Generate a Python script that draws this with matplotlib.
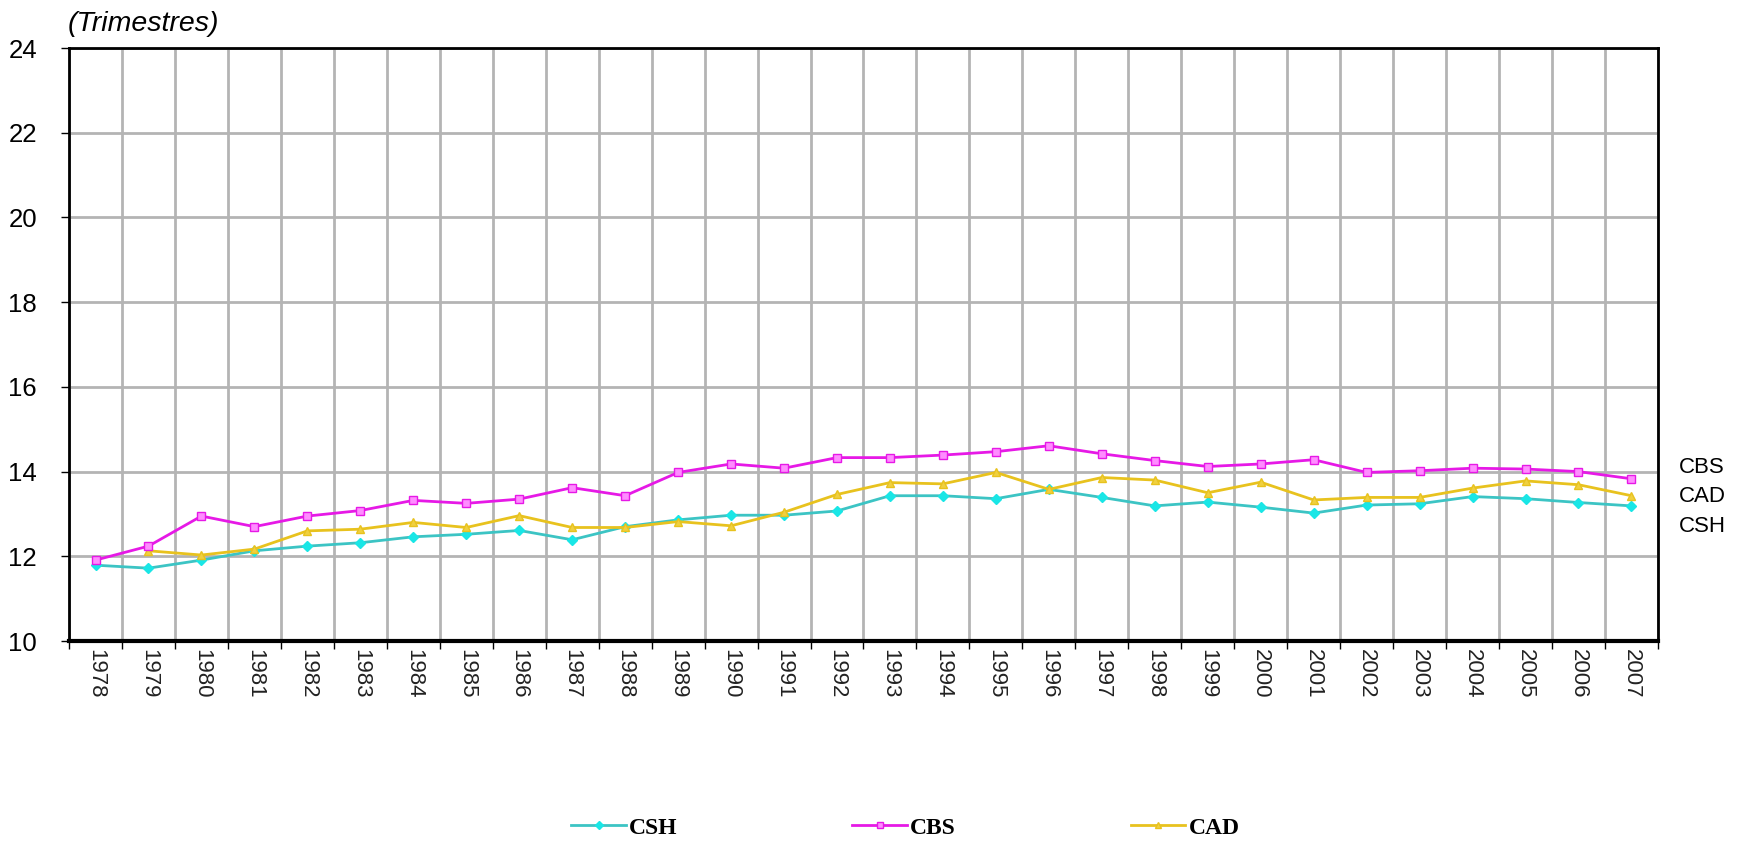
import matplotlib
matplotlib.use("Agg")
import matplotlib.pyplot as plt
import numpy as np

years = [str(y) for y in range(1978, 2008)]

csh = [11.79, 11.72, 11.91, 12.13, 12.24, 12.32, 12.46, 12.52, 12.61, 12.39,
       12.70, 12.86, 12.97, 12.97, 13.07, 13.43, 13.43, 13.36, 13.58, 13.39,
       13.19, 13.28, 13.16, 13.02, 13.21, 13.24, 13.41, 13.36, 13.27, 13.19]

cbs = [11.91, 12.24, 12.95, 12.70, 12.95, 13.08, 13.32, 13.25, 13.35, 13.62,
       13.43, 13.98, 14.18, 14.08, 14.33, 14.33, 14.39, 14.47, 14.61, 14.42,
       14.26, 14.12, 14.18, 14.28, 13.98, 14.02, 14.08, 14.06, 14.00, 13.83]

# CAD starts in 1979
cad = [np.nan, 12.13, 12.03, 12.17, 12.60, 12.64, 12.80, 12.68, 12.96, 12.68,
       12.68, 12.82, 12.72, 13.04, 13.46, 13.74, 13.71, 13.98, 13.58, 13.86,
       13.80, 13.50, 13.75, 13.33, 13.39, 13.39, 13.61, 13.78, 13.69, 13.43]

colors = {
    'csh': '#3cc4c4',
    'cshMarker': '#19e6e6',
    'cbs': '#e619e6',
    'cbsMarker': '#ff8cff',
    'cad': '#e8c21e',
    'cadMarker': '#f0d040',
    'grid': '#b4b4b4',
}

fig = plt.figure(figsize=(17.43, 8.41), dpi=100)
ax = fig.add_axes([0.0396, 0.2378, 0.9116, 0.7051])

x = np.arange(len(years)) + 0.5

ax.plot(x, csh, color=colors['csh'], lw=2, marker='D', ms=5,
        mfc=colors['cshMarker'], mec=colors['cshMarker'], label='CSH', zorder=3)
ax.plot(x, cbs, color=colors['cbs'], lw=2, marker='s', ms=6,
        mfc=colors['cbsMarker'], mec=colors['cbs'], mew=1, label='CBS', zorder=4)
ax.plot(x, cad, color=colors['cad'], lw=2, marker='^', ms=6,
        mfc=colors['cadMarker'], mec=colors['cad'], label='CAD', zorder=3)

ax.set_xlim(0, len(years))
ax.set_ylim(10, 24)
ax.set_yticks(np.arange(10, 25, 2))

# ticks on category boundaries, labels on category centers
ax.set_xticks(np.arange(len(years) + 1))
ax.set_xticklabels([])
ax.set_xticks(x, minor=True)
ax.set_xticklabels(years, minor=True, rotation=-90, fontsize=16,
                   color='#222222', family='Liberation Sans')
ax.tick_params(axis='x', which='minor', length=0, pad=6)
ax.tick_params(axis='x', which='major', length=6, width=1, direction='out')
ax.tick_params(axis='y', length=6, width=1, direction='out', pad=17,
               labelsize=18.5)
for lab in ax.get_yticklabels():
    lab.set_family('Liberation Sans')

ax.grid(True, which='major', color=colors['grid'], lw=2)
ax.set_axisbelow(True)

for side in ['left', 'top', 'right']:
    ax.spines[side].set_linewidth(2)
    ax.spines[side].set_color('black')
ax.spines['bottom'].set_linewidth(3)
ax.spines['bottom'].set_color('black')

tr = ax.get_yaxis_transform()
ax.text(1.013, 14.1, 'CBS', transform=tr, fontsize=16, va='center',
        family='Liberation Sans')
ax.text(1.013, 13.4, 'CAD', transform=tr, fontsize=16, va='center',
        family='Liberation Sans')
ax.text(1.013, 12.7, 'CSH', transform=tr, fontsize=16, va='center',
        family='Liberation Sans')

fig.text(68 / 1743, 0.971, '(Trimestres)', fontsize=20.5, style='italic',
         va='center', family='Liberation Sans')

fig.legend(loc='center', bbox_to_anchor=(0.5195, 0.0155), ncol=3, frameon=False,
           prop={'family': 'Liberation Serif', 'size': 17, 'weight': 'bold'},
           handlelength=2.3, handletextpad=0.15, columnspacing=7.4,
           markerscale=0.8)

fig.savefig('out.png', dpi=100)
